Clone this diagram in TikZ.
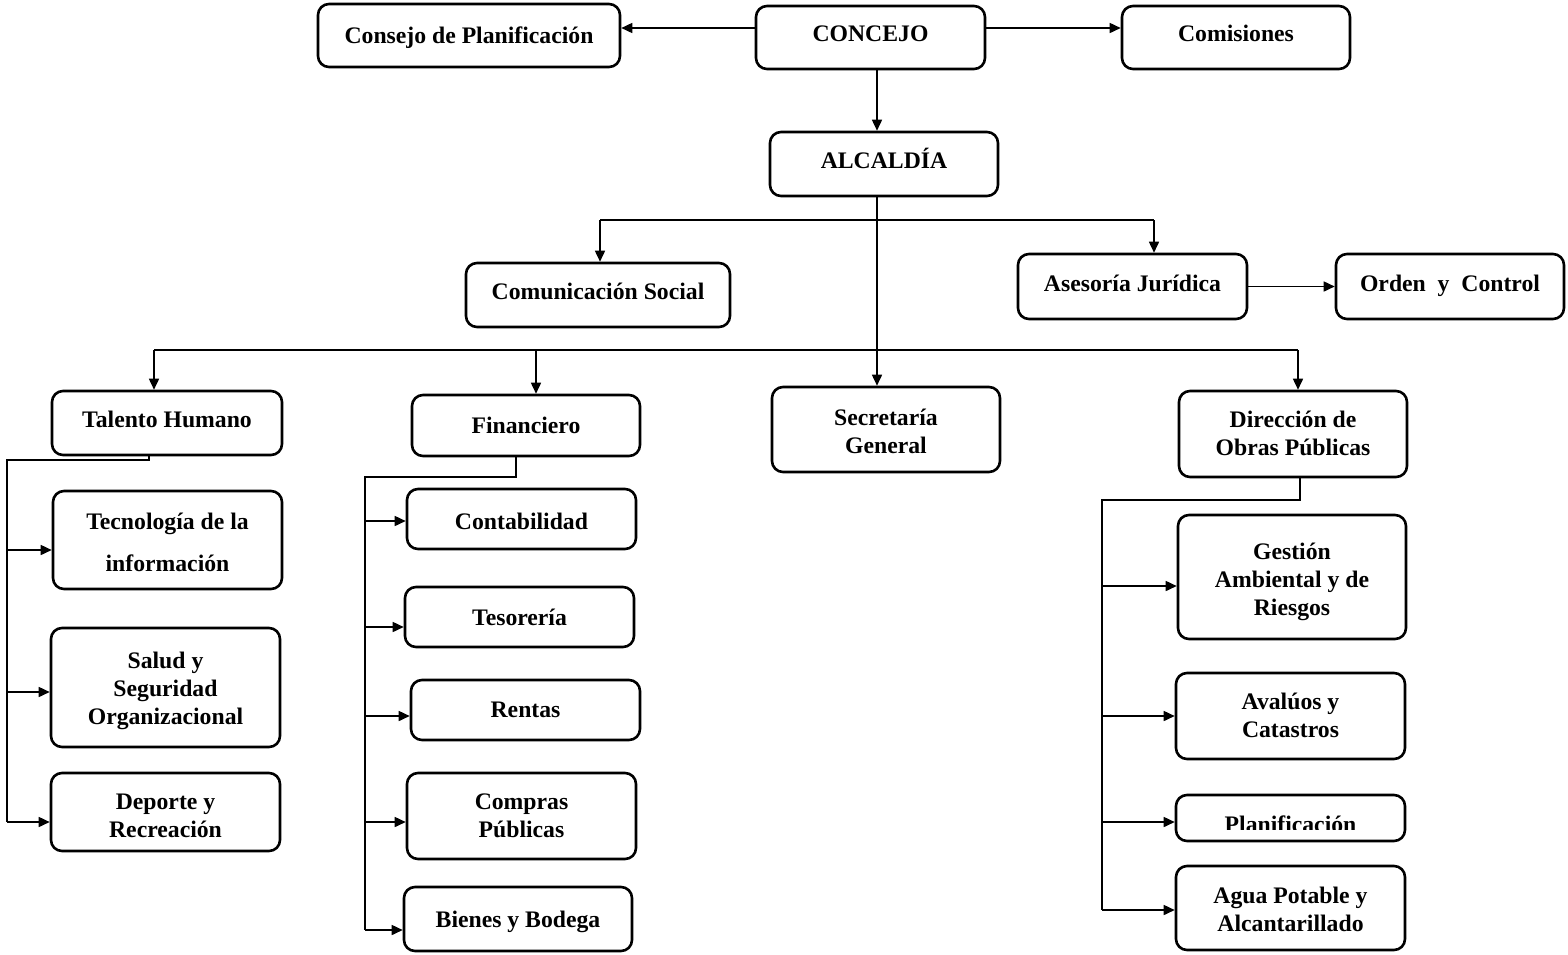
\documentclass[tikz,border=0pt]{standalone}
\usepackage{fontspec}
\setmainfont{Liberation Serif}
\usetikzlibrary{arrows.meta}

% \orgbox[dy]{name}{x1}{y1}{x2}{y2}{text}: a rounded unit box given by its
% corners; the text sits at the box centre, moved down by dy
\newcommand\orgbox[7][0]{%
  \node[unit, minimum width={(#5-#3)*1pt}, minimum height={(#6-#4)*1pt}]
    (#2) at ({(#3+#5)/2},{(#4+#6)/2}) {};
  \node[label, align=center] (#2-text) at ([yshift=-#1pt]#2.center) {#7};}

\begin{document}
\begin{tikzpicture}[x=1pt,y=-1pt,
  unit/.style={draw, line width=2.6pt, rounded corners=11pt,
    inner sep=0pt, anchor=center},
  label/.style={font=\bfseries\fontsize{23.7}{28}\selectfont, inner sep=0pt},
  link/.style={line width=1.6pt},
  arr/.style={link, -{Triangle[length=11pt,width=10pt]}}]

\useasboundingbox (0,0) rectangle (1568,954);

% top level
\orgbox[2]{consejo}{318}{4}{620}{67}{Consejo de Planificación}
\orgbox[-4]{concejo}{756}{6}{985}{69}{CONCEJO}
\orgbox[-4]{comisiones}{1122}{6}{1350}{69}{Comisiones}
\orgbox[-6]{alcaldia}{770}{132}{998}{196}{ALCALDÍA}

% advisory units
\orgbox[-4]{comunicacion}{466}{263}{730}{327}{Comunicación Social}
\orgbox[-3]{asesoria}{1018}{254}{1247}{319}{Asesoría Jurídica}
\orgbox[-1]{orden}{1336}{254}{1564}{319}{Orden\ \ y\ \ Control}

% departments
\orgbox[-4]{talento}{52}{391}{282}{455}{Talento Humano}
\orgbox{financiero}{412}{395}{640}{456}{Financiero}
\orgbox[2]{secretaria}{772}{387}{1000}{472}{Secretaría\\General}
\orgbox[-1]{obras}{1179}{391}{1407}{477}{Dirección de\\Obras Públicas}

% Talento Humano units
\orgbox[2]{tecnologia}{53}{491}{282}{589}{Tecnología de la\\[14pt]información}
\orgbox[3]{salud}{51}{628}{280}{747}{Salud y\\Seguridad\\Organizacional}
\orgbox[4]{deporte}{51}{773}{280}{851}{Deporte y\\Recreación}

% Financiero units
\orgbox[2]{contabilidad}{407}{489}{636}{549}{Contabilidad}
\orgbox{tesoreria}{405}{587}{634}{647}{Tesorería}
\orgbox{rentas}{411}{680}{640}{740}{Rentas}
\orgbox{compras}{407}{773}{636}{859}{Compras\\Públicas}
\orgbox[3]{bienes}{404}{887}{632}{951}{Bienes y Bodega}

% Obras Públicas units
\orgbox[5]{gestion}{1178}{515}{1406}{639}{Gestión\\Ambiental y de\\Riesgos}
\orgbox[-1]{avaluos}{1176}{673}{1405}{759}{Avalúos y\\Catastros}
\orgbox{planificacion}{1176}{795}{1405}{841}{}
\begin{scope}
  \clip (1176,795) rectangle (1405,829);
  \node[label, anchor=base] (planiftext) at (1290.5,832) {Planificación};
\end{scope}
\orgbox[1]{agua}{1176}{866}{1405}{950}{Agua Potable y\\Alcantarillado}

% junction points
\coordinate (toprow) at (0,28);
\coordinate (axis) at (877,0);
\coordinate (b1l) at (600,220);
\coordinate (b1r) at (1154,220);
\coordinate (b2l) at (154,350);
\coordinate (b2m) at (536,350);
\coordinate (b2r) at (1298,350);
\coordinate (tA) at (149,460);
\coordinate (tB) at (7,460);
\coordinate (tC) at (7,822);
\coordinate (fA) at (516,477);
\coordinate (fB) at (365,477);
\coordinate (fC) at (365,930);
\coordinate (oA) at (1300,500);
\coordinate (oB) at (1102,500);
\coordinate (oC) at (1102,910);

% top row
\draw[arr] (concejo.west |- toprow) -- (consejo.east |- toprow);
\draw[arr] (concejo.east |- toprow) -- (comisiones.west |- toprow);
\draw[arr] (concejo.south -| axis) -- (alcaldia.north -| axis);
\draw[arr] (alcaldia.south -| axis) -- (secretaria.north -| axis);

% advisory bus
\draw[link] (b1l) -- (b1r);
\draw[arr] (b1l) -- (comunicacion.north -| b1l);
\draw[arr] (b1r) -- (asesoria.north -| b1r);
\draw[arr] (asesoria.east) -- (orden.west);

% department bus
\draw[link] (b2l) -- (b2r);
\draw[arr] (b2l) -- (talento.north -| b2l);
\draw[arr] (b2m) -- (financiero.north -| b2m);
\draw[arr] (b2r) -- (obras.north -| b2r);

% Talento Humano branch
\draw[link] (talento.south -| tA) -- (tA) -- (tB) -- (tC);
\draw[arr] (tB |- 0,550) -- (tecnologia.west |- 0,550);
\draw[arr] (tB |- 0,692) -- (salud.west |- 0,692);
\draw[arr] (tC) -- (deporte.west |- tC);

% Financiero branch
\draw[link] (financiero.south -| fA) -- (fA) -- (fB) -- (fC);
\draw[arr] (fB |- 0,521) -- (contabilidad.west |- 0,521);
\draw[arr] (fB |- 0,627) -- (tesoreria.west |- 0,627);
\draw[arr] (fB |- 0,716) -- (rentas.west |- 0,716);
\draw[arr] (fB |- 0,822) -- (compras.west |- 0,822);
\draw[arr] (fC) -- (bienes.west |- fC);

% Obras Publicas branch
\draw[link] (obras.south -| oA) -- (oA) -- (oB) -- (oC);
\draw[arr] (oB |- 0,586) -- (gestion.west |- 0,586);
\draw[arr] (oB |- 0,716) -- (avaluos.west |- 0,716);
\draw[arr] (oB |- 0,822) -- (planificacion.west |- 0,822);
\draw[arr] (oC) -- (agua.west |- oC);

\end{tikzpicture}
\end{document}
